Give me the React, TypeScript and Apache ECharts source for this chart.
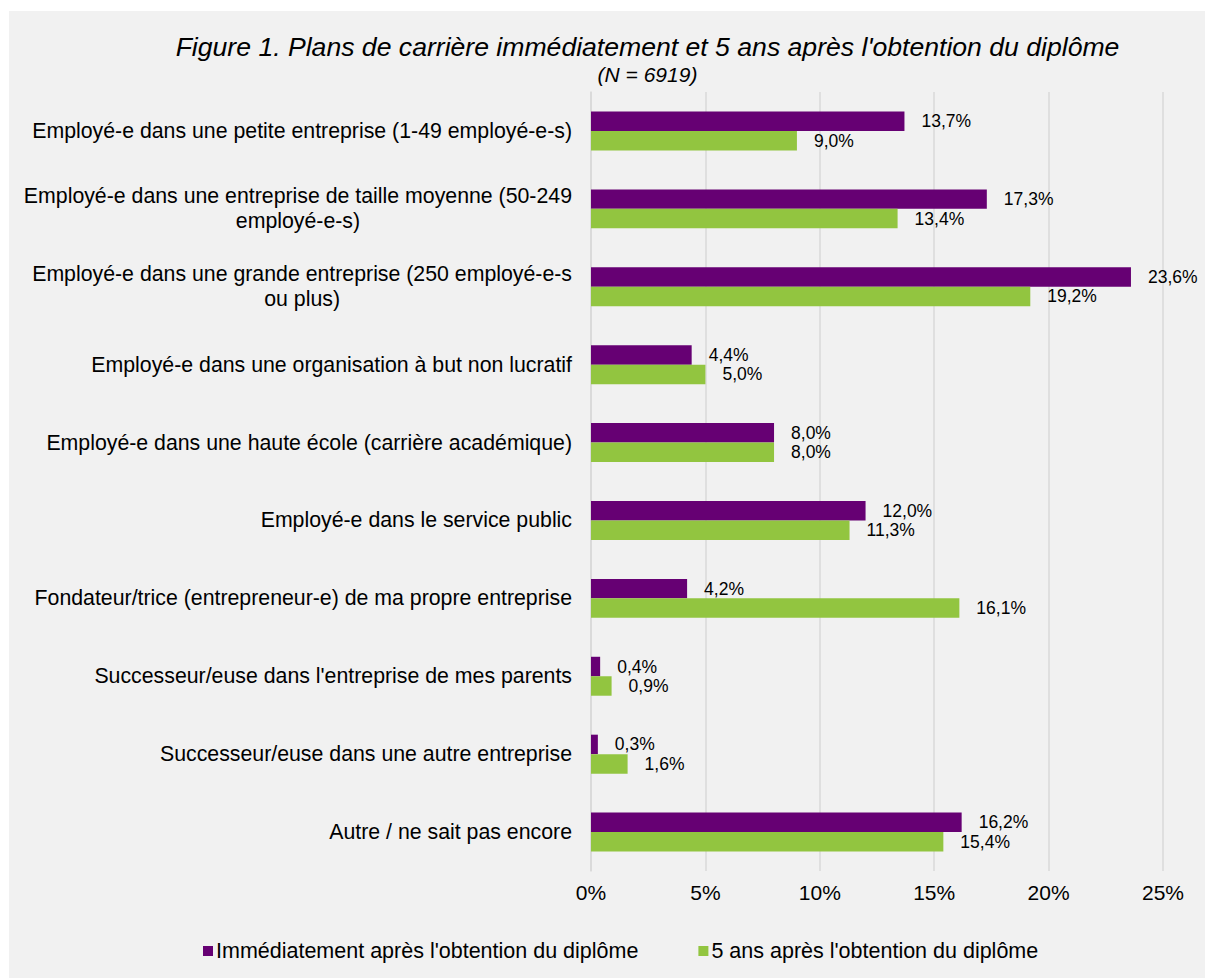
import React, { useEffect, useRef } from "react";
import * as echarts from "echarts";

const categories = [
  "Employé-e dans une petite entreprise (1-49 employé-e-s)",
  "Employé-e dans une entreprise de taille moyenne (50-249\nemployé-e-s)",
  "Employé-e dans une grande entreprise (250 employé-e-s\nou plus)",
  "Employé-e dans une organisation à but non lucratif",
  "Employé-e dans une haute école (carrière académique)",
  "Employé-e dans le service public",
  "Fondateur/trice (entrepreneur-e) de ma propre entreprise",
  "Successeur/euse dans l'entreprise de mes parents",
  "Successeur/euse dans une autre entreprise",
  "Autre / ne sait pas encore",
];

const seriesNames = [
  "Immédiatement après l'obtention du diplôme",
  "5 ans après l'obtention du diplôme",
];

const immediate = [13.7, 17.3, 23.6, 4.4, 8.0, 12.0, 4.2, 0.4, 0.3, 16.2];
const fiveYears = [9.0, 13.4, 19.2, 5.0, 8.0, 11.3, 16.1, 0.9, 1.6, 15.4];

const xTicks = [0, 5, 10, 15, 20, 25];

const titleText = "Figure 1. Plans de carrière immédiatement et 5 ans après l'obtention du diplôme";
const subtitleText = "(N = 6919)";

const FONT = '"Liberation Sans", Arial, sans-serif';
const LABEL_SIZE = 21.3;

function measure(text: string, size: number): number {
  const c = document.createElement("canvas").getContext("2d");
  if (!c) return text.length * size * 0.5;
  c.font = `${size}px "Liberation Sans"`;
  return c.measureText(text).width;
}

export default function App() {
  const ref = useRef<HTMLDivElement>(null);
  useEffect(() => {
    if (!ref.current) return;
    const chart = echarts.init(ref.current, undefined, { renderer: "svg" });

    const rich: Record<string, any> = {
      a: { fontSize: LABEL_SIZE, fontFamily: FONT, color: "#000", lineHeight: 25 },
    };
    const labelMap: Record<string, string> = {};
    categories.forEach((cat, i) => {
      const lines = cat.split("\n");
      if (lines.length === 1) {
        labelMap[cat] = `{a|${cat}}`;
      } else {
        const w1 = measure(lines[0], LABEL_SIZE);
        const w2 = measure(lines[1], LABEL_SIZE);
        const pad = Math.max(0, (w1 - w2) / 2);
        rich["p" + i] = {
          fontSize: LABEL_SIZE,
          fontFamily: FONT,
          color: "#000",
          lineHeight: 25,
          padding: [0, pad, 0, 0],
        };
        labelMap[cat] = `{a|${lines[0]}}\n{p${i}|${lines[1]}}`;
      }
    });

    const fmt = (p: any) => Number(p.value).toFixed(1).replace(".", ",") + "%";

    chart.setOption({
      animation: false,
      backgroundColor: "#f1f1f1",
      textStyle: { fontFamily: FONT },
      graphic: [
        {
          type: "text",
          x: 638.5,
          y: 36,
          style: {
            text: titleText,
            fontSize: 26.6,
            fontStyle: "italic",
            fontFamily: FONT,
            fill: "#000",
            align: "center",
            verticalAlign: "middle",
          },
        },
        {
          type: "text",
          x: 638.5,
          y: 63,
          style: {
            text: subtitleText,
            fontSize: 21,
            fontStyle: "italic",
            fontFamily: FONT,
            fill: "#000",
            align: "center",
            verticalAlign: "middle",
          },
        },
      ],
      legend: {
        data: seriesNames,
        left: 194,
        top: 929,
        padding: 0,
        itemWidth: 10,
        itemHeight: 10,
        itemGap: 60,
        icon: "rect",
        textStyle: { fontSize: 21.5, color: "#000", fontFamily: FONT, padding: [0, 0, 0, -2] },
      },
      grid: { left: 582, right: 42, top: 81, height: 779, containLabel: false },
      xAxis: {
        type: "value",
        min: 0,
        max: 25,
        interval: 5,
        axisLine: { show: false },
        axisTick: { show: false },
        splitLine: { show: true, lineStyle: { color: "#d9d9d9", width: 1.5 } },
        axisLabel: {
          formatter: (v: number) => (xTicks.includes(v) ? v + "%" : ""),
          fontSize: 21,
          color: "#000",
          fontFamily: FONT,
          margin: 11,
        },
      },
      yAxis: {
        type: "category",
        data: categories,
        inverse: true,
        axisLine: { show: true, lineStyle: { color: "#d9d9d9", width: 1.5 } },
        axisTick: { show: false },
        axisLabel: {
          margin: 19,
          formatter: (v: string) => labelMap[v] || v,
          rich,
          align: "right",
        },
      },
      series: [
        {
          name: seriesNames[0],
          type: "bar",
          data: immediate,
          barGap: "0%",
          barCategoryGap: "50%",
          itemStyle: { color: "#660073" },
          label: {
            show: true,
            position: "right",
            distance: 17,
            fontSize: 17.5,
            color: "#000",
            fontFamily: FONT,
            formatter: fmt,
          },
        },
        {
          name: seriesNames[1],
          type: "bar",
          data: fiveYears,
          barGap: "0%",
          barCategoryGap: "50%",
          itemStyle: { color: "#92c540" },
          label: {
            show: true,
            position: "right",
            distance: 17,
            fontSize: 17.5,
            color: "#000",
            fontFamily: FONT,
            formatter: fmt,
          },
        },
      ],
    });
    return () => chart.dispose();
  }, []);

  return (
    <div
      ref={ref}
      style={{ position: "fixed", left: 9, top: 11, width: 1196, height: 967 }}
    />
  );
}
